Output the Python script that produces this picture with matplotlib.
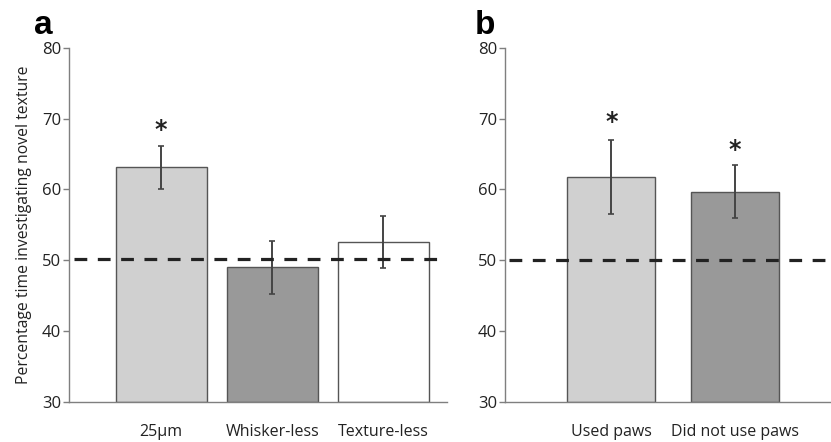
import numpy as np
import matplotlib

matplotlib.use("Agg")
import matplotlib.pyplot as plt

plt.rcParams["font.family"] = ["Open Sans", "DejaVu Sans"]

# panel a
labels_a = ["25\u03bcm", "Whisker-less", "Texture-less"]
means_a = [63.1, 49.0, 52.6]
errs_a = [3.0, 3.7, 3.7]
colors_a = ["#d0d0d0", "#999999", "#ffffff"]
stars_a = [True, False, False]

# panel b
labels_b = ["Used paws", "Did not use paws"]
means_b = [61.8, 59.7]
errs_b = [5.2, 3.75]
colors_b = ["#d0d0d0", "#999999"]
stars_b = [True, True]

chance_a = 50.2
chance_b = 50.0

fig = plt.figure(figsize=(8.31, 4.42), dpi=100)
bottom, top = 40 / 442, (442 - 47.7) / 442
ax_a = fig.add_axes([69 / 831, bottom, (447 - 69) / 831, top - bottom])
ax_b = fig.add_axes([505 / 831, bottom, (831 - 505) / 831, top - bottom])

axis_color = "#7f7f7f"


def draw_panel(ax, labels, means, errs, colors, stars, chance, width, xlim, star_offsets):
    x = np.arange(len(labels))
    ax.bar(x, [m - 30 for m in means], bottom=30, width=width, color=colors,
           edgecolor="#555555", linewidth=1.0, zorder=2)
    ax.errorbar(x, means, yerr=errs, fmt="none", ecolor="#444444",
                elinewidth=1.4, capsize=2.5, capthick=1.2, zorder=3)
    for xi, m, e, s, off in zip(x, means, errs, stars, star_offsets):
        if s:
            ax.text(xi, m + e + off, "*", ha="center", va="bottom",
                    fontsize=17, fontweight="bold", color="#222222",
                    family="DejaVu Sans")
    ax.axhline(chance, xmin=0.012, xmax=1, color="#222222", lw=2.3,
               dashes=(4, 3.3), zorder=4)
    ax.set_ylim(30, 80)
    ax.set_xlim(*xlim)
    ax.set_yticks([30, 40, 50, 60, 70, 80])
    ax.set_xticks(x)
    ax.set_xticklabels(labels)
    ax.tick_params(axis="x", length=0, pad=16, labelsize=11.5, labelcolor="#222222")
    ax.tick_params(axis="y", length=4, width=1, color=axis_color, pad=1.5,
                   labelsize=12, labelcolor="#222222")
    for side in ["top", "right"]:
        ax.spines[side].set_visible(False)
    for side in ["left", "bottom"]:
        ax.spines[side].set_color(axis_color)
        ax.spines[side].set_linewidth(1.0)


draw_panel(ax_a, labels_a, means_a, errs_a, colors_a, stars_a, chance_a,
           0.82, (-0.83, 2.574), [0.6, 0, 0])
draw_panel(ax_b, labels_b, means_b, errs_b, colors_b, stars_b, chance_b,
           0.71, (-0.86, 1.776), [0.8, 0.4])

ax_a.set_ylabel("Percentage time investigating novel texture", fontsize=11.3,
                color="#222222", labelpad=7)

fig.text(43 / 831, 1 - 25 / 442, "a", fontsize=24, fontweight="bold",
         family="Liberation Sans", ha="center", va="center")
fig.text(485 / 831, 1 - 25 / 442, "b", fontsize=24, fontweight="bold",
         family="Liberation Sans", ha="center", va="center")

fig.savefig("out.png", dpi=100)
